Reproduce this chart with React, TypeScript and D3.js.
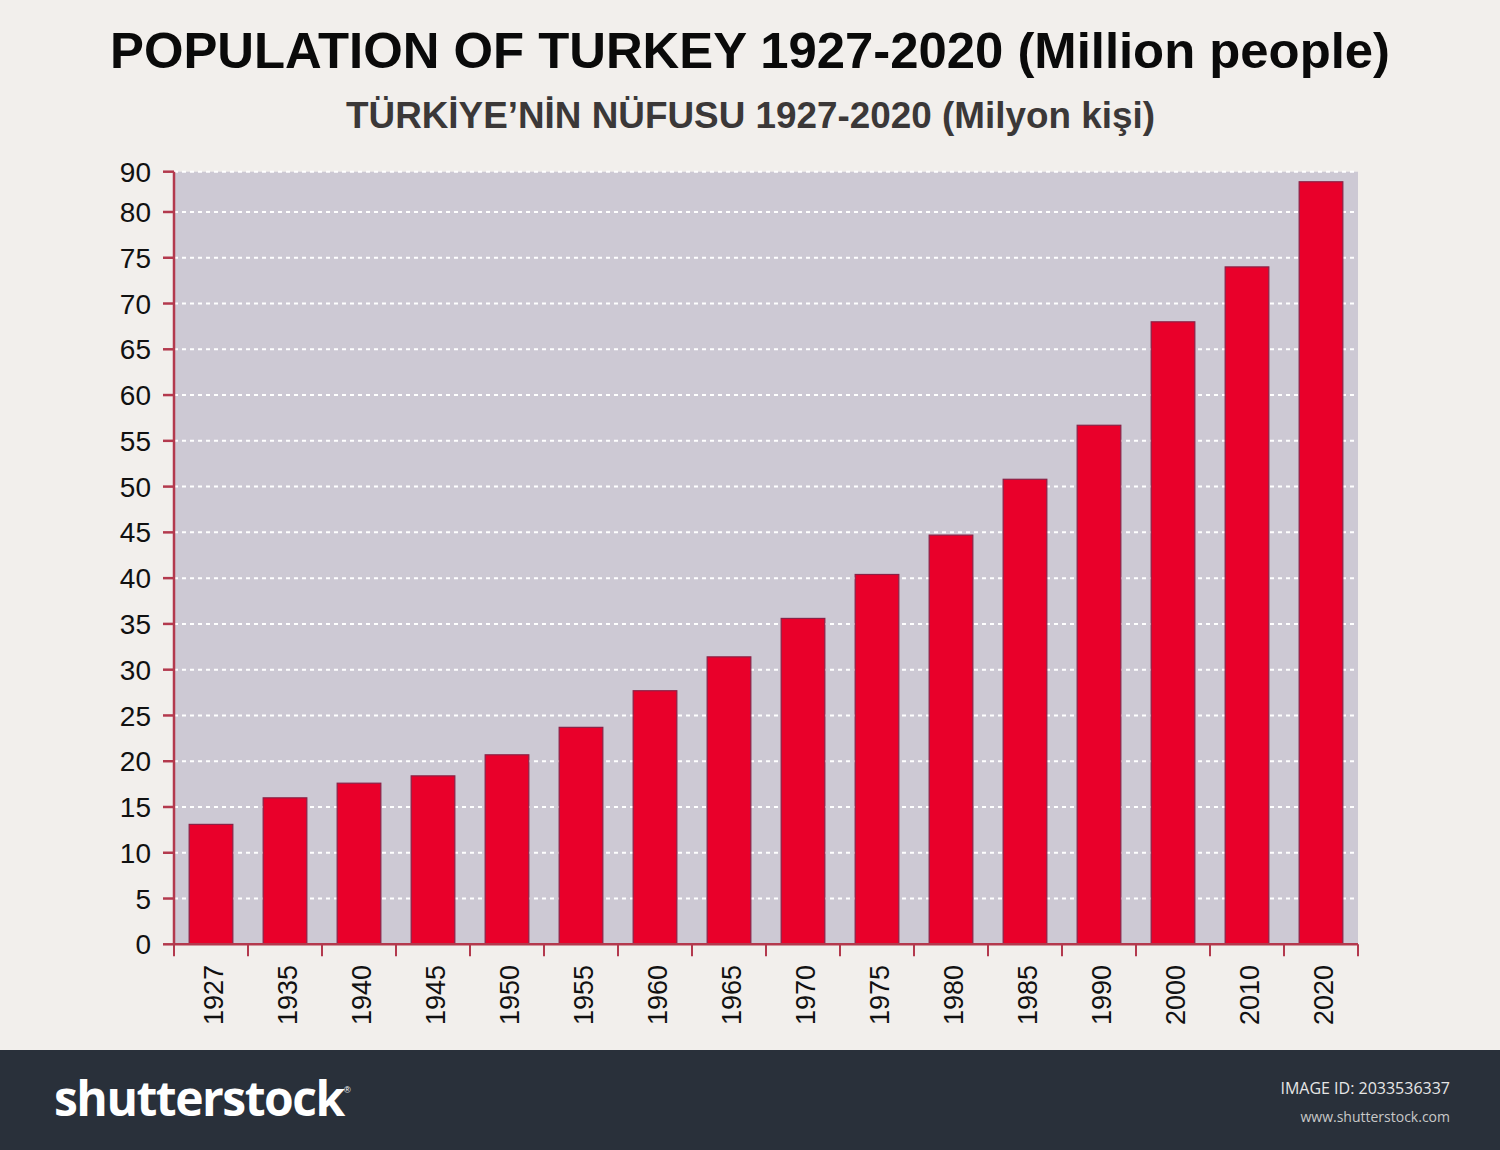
import React from "react";
import * as d3 from "d3";

const years = ["1927","1935","1940","1945","1950","1955","1960","1965","1970","1975","1980","1985","1990","2000","2010","2020"];
const population = [13.1,16.0,17.6,18.4,20.7,23.7,27.7,31.4,35.6,40.4,44.7,50.8,56.7,68.0,74.0,83.3];
const tickValues = [0,5,10,15,20,25,30,35,40,45,50,55,60,65,70,75,80,84.4];
const tickLabels = ["0","5","10","15","20","25","30","35","40","45","50","55","60","65","70","75","80","90"];
const yMax = 84.4;

const W = 1500, H = 1150;
const PL = 174, PR = 1358, PT = 171.7, PB = 944.3;

export default function App() {
  const x = d3.scaleBand<string>().domain(years).range([PL, PR]).paddingInner(0.41).paddingOuter(0.205);
  const xb = d3.scaleBand<string>().domain(years).range([PL, PR]);
  const y = d3.scaleLinear().domain([0, yMax]).range([PB, PT]);
  const axisColor = "#b3394d";
  const font = "'Liberation Sans', Arial, sans-serif";
  return (
    <svg width={W} height={H} style={{ position: "absolute", left: 0, top: 0 }} fontFamily={font}>
      <rect x={0} y={0} width={W} height={H} fill="#f2efec" />
      <text x={110} y={68} fontWeight="bold" fontSize={50} fill="#0a0a0a" textLength={1280} lengthAdjust="spacingAndGlyphs">POPULATION OF TURKEY 1927-2020 (Million people)</text>
      <text x={346} y={128} fontWeight="bold" fontSize={36} fill="#3b3838" textLength={809} lengthAdjust="spacingAndGlyphs">TÜRKİYE’NİN NÜFUSU 1927-2020 (Milyon kişi)</text>
      <rect x={PL} y={PT} width={PR - PL} height={PB - PT} fill="#cdc9d4" />
      {tickValues.map((v, i) => (
        <g key={i}>
          {i > 0 && <line x1={PL} x2={PR} y1={y(v)} y2={y(v)} stroke="#ffffff" strokeWidth={2} strokeDasharray="4 4" />}
          <line x1={PL - 11} x2={PL} y1={y(v)} y2={y(v)} stroke={axisColor} strokeWidth={2.5} />
          <text x={151} y={y(v)} dy="0.36em" textAnchor="end" fontSize={28} fill="#111">{tickLabels[i]}</text>
        </g>
      ))}
      {years.map((yr, i) => (
        <rect key={yr} x={x(yr)} y={y(population[i])} width={x.bandwidth()} height={PB - y(population[i])} fill="#e9002a" stroke="#8a2246" strokeWidth={1.2} />
      ))}
      <line x1={PL} x2={PL} y1={PT} y2={PB} stroke={axisColor} strokeWidth={2.5} />
      <line x1={PL} x2={PR} y1={PB} y2={PB} stroke={axisColor} strokeWidth={2.5} />
      {years.map((yr) => (
        <line key={"t" + yr} x1={xb(yr)} x2={xb(yr)} y1={PB} y2={PB + 12} stroke={axisColor} strokeWidth={2} />
      ))}
      <line x1={PR} x2={PR} y1={PB} y2={PB + 12} stroke={axisColor} strokeWidth={2} />
      {years.map((yr) => {
        const cx = (xb(yr) as number) + xb.bandwidth() / 2;
        return (
          <text key={"l" + yr} transform={`translate(${cx + 2},965) rotate(-90)`} textAnchor="end" dy="0.36em" fontSize={27} fill="#111">{yr}</text>
        );
      })}
      <rect x={0} y={1050} width={W} height={100} fill="#29303a" />
      <text x={54} y={1116} fontSize={48} fontWeight="bold" fill="#ffffff" fontFamily="'Open Sans', 'DejaVu Sans', sans-serif" letterSpacing={-1.5}>shutterstock</text>
      <text x={344} y={1093} fontSize={9} fill="#ffffff">®</text>
      <text x={1450} y={1094} textAnchor="end" fontSize={16} fill="#e6e6e6" fontFamily="'Open Sans', sans-serif">IMAGE ID: 2033536337</text>
      <text x={1450} y={1122} textAnchor="end" fontSize={14} fill="#c8c8c8" fontFamily="'Open Sans', sans-serif">www.shutterstock.com</text>
    </svg>
  );
}
